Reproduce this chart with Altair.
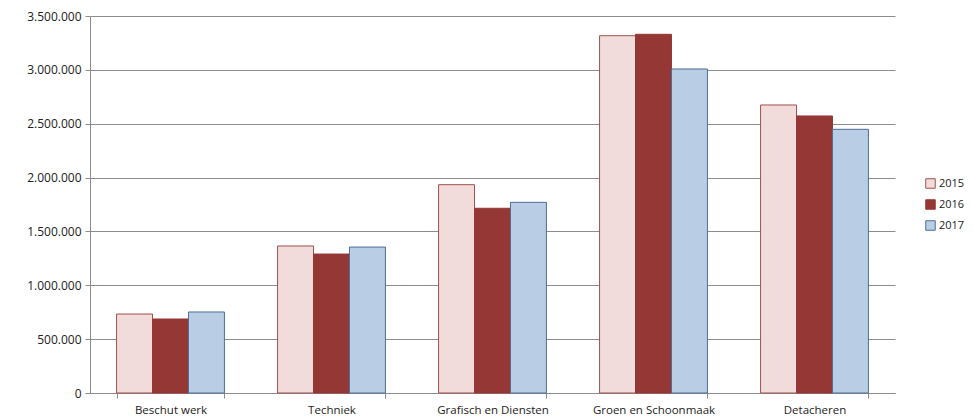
import altair as alt
import pandas as pd

categories = ["Beschut werk", "Techniek", "Grafisch en Diensten", "Groen en Schoonmaak", "Detacheren"]
years = ["2015", "2016", "2017"]
v2015 = [733000, 1365000, 1934000, 3317000, 2674000]
v2016 = [687000, 1290000, 1715000, 3330000, 2572000]
v2017 = [752000, 1355000, 1770000, 3008000, 2448000]

rows = []
for i, c in enumerate(categories):
    for y, vals in zip(years, [v2015, v2016, v2017]):
        rows.append({"cat": c, "year": y, "value": vals[i]})
df = pd.DataFrame(rows)

fills = ["#F2DCDB", "#953735", "#B9CDE5"]
strokes = ["#A0504E", "#953735", "#4F6E95"]
font = "Open Sans"

chart = alt.Chart(df).mark_bar(strokeWidth=1).encode(
    x=alt.X("cat:N", sort=categories, title=None,
            scale=alt.Scale(paddingInner=0.33, paddingOuter=0.165),
            axis=alt.Axis(labelAngle=0, tickBand="extent", tickSize=5, labelPadding=6,
                          domainColor="#8C8C8C", tickColor="#8C8C8C", labelFont=font,
                          labelFontSize=11.5, labelColor="#222222", grid=False)),
    xOffset=alt.XOffset("year:N", sort=years),
    y=alt.Y("value:Q", title=None,
            scale=alt.Scale(domain=[0, 3500000], nice=False),
            axis=alt.Axis(values=[0, 500000, 1000000, 1500000, 2000000, 2500000, 3000000, 3500000],
                          labelExpr="join(split(format(datum.value, ','), ','), '.')",
                          tickSize=5, labelPadding=4, domainColor="#8C8C8C", tickColor="#8C8C8C",
                          gridColor="#8C8C8C", gridWidth=1, labelFont=font, labelFontSize=12,
                          labelColor="#222222")),
    color=alt.Color("year:N", scale=alt.Scale(domain=years, range=fills), title=None,
                    legend=alt.Legend(orient="none", legendX=835, legendY=162, symbolType="square",
                                      symbolSize=90, symbolStrokeWidth=1, labelFont=font,
                                      labelFontSize=11, labelOffset=3, labelColor="#222222",
                                      rowPadding=6)),
    stroke=alt.Stroke("year:N", scale=alt.Scale(domain=years, range=strokes), legend=None),
).properties(
    width=805, height=377,
    autosize=alt.AutoSizeParams(type="none"),
    padding={"left": 82, "top": 8, "right": 70, "bottom": 28},
).configure_view(stroke=None).configure_axis(domainWidth=1)

chart.save("out.html", embed_options={"renderer": "svg", "actions": False})
